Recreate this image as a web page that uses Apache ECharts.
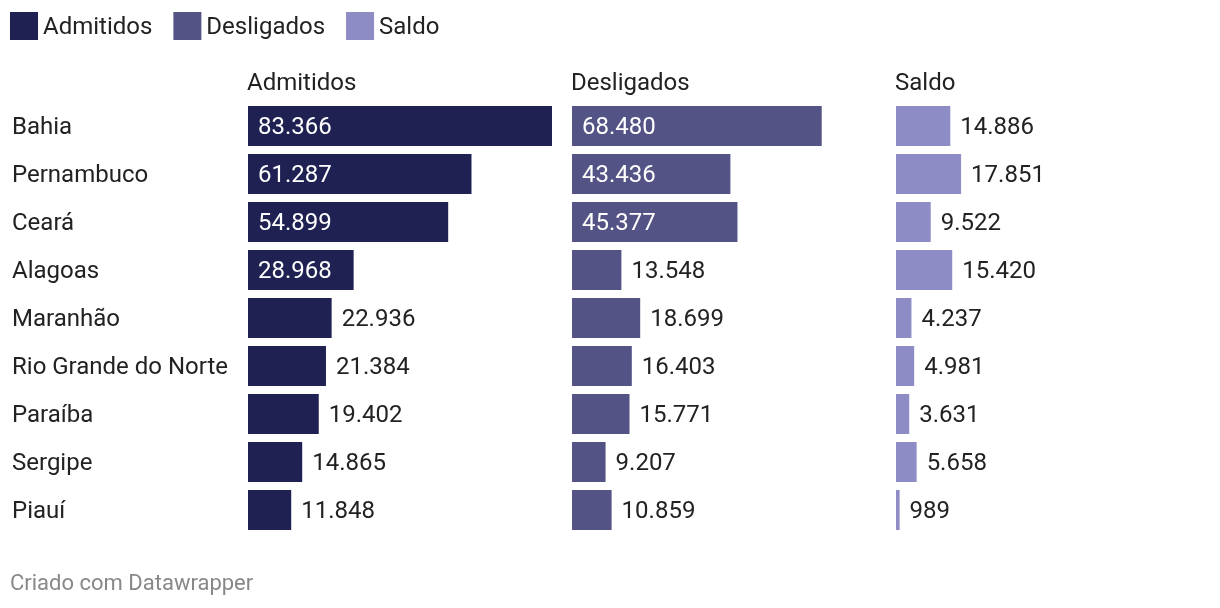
<!DOCTYPE html>
<html><head><meta charset="utf-8">
<script src="https://cdn.jsdelivr.net/npm/echarts@6/dist/echarts.min.js"></script>
<style>html,body{margin:0;padding:0;background:#fff}#c{width:1220px;height:608px}</style>
</head><body><div id="c"></div>
<script>
const categories = ["Bahia","Pernambuco","Ceará","Alagoas","Maranhão","Rio Grande do Norte","Paraíba","Sergipe","Piauí"];
const admitidos = [83366,61287,54899,28968,22936,21384,19402,14865,11848];
const desligados = [68480,43436,45377,13548,18699,16403,15771,9207,10859];
const saldo = [14886,17851,9522,15420,4237,4981,3631,5658,989];
const seriesNames = ["Admitidos","Desligados","Saldo"];
const colors = ["#1f2152","#545385","#8e8cc4"];

const maxV = Math.max(...admitidos, ...desligados, ...saldo);
const FONT = "Roboto";
const FS = 24;
const fmt = v => String(v).replace(/\B(?=(\d{3})+(?!\d))/g, ".");
const lefts = [248, 572, 896];
const W = 304;

const chart = echarts.init(document.getElementById('c'), null, {renderer:'canvas'});
const allData = [admitidos, desligados, saldo];

const richShift = {a:{fontFamily:FONT, fontSize:FS, color:'#222', padding:[4,0,0,0]}};

const grids = lefts.map(l => ({left:l, top:102, width:W, height:432}));
const xAxes = lefts.map((l,i) => ({gridIndex:i, type:'value', min:0, max:maxV, show:false}));
const yAxes = lefts.map((l,i) => ({
  gridIndex:i, type:'category', data:categories, inverse:true,
  axisLine:{show:false}, axisTick:{show:false}, splitLine:{show:false},
  axisLabel: i===0 ? {show:true, align:'left', margin:236, fontFamily:FONT, fontSize:FS, color:'#222',
    formatter: v => '{a|' + v + '}', rich: richShift} : {show:false}
}));
const series = allData.map((arr,i) => ({
  name: seriesNames[i], type:'bar', xAxisIndex:i, yAxisIndex:i, barWidth:40,
  itemStyle:{color:colors[i]},
  data: arr.map(v => {
    const inside = v/maxV*W > 100;
    return {value:v, label:{show:true, position: inside ? 'insideLeft' : 'right',
      distance: 10, offset:[0,2],
      color: inside ? '#fff' : '#222', fontFamily:FONT, fontSize:FS,
      formatter: p => fmt(p.value)}};
  })
}));

chart.setOption({
  animation:false,
  color: colors,
  legend:{left:10, top:12, padding:0, itemWidth:28, itemHeight:28, itemGap:21, icon:'rect',
    data: seriesNames,
    formatter: n => '{a|' + n + '}',
    textStyle:{fontFamily:FONT, fontSize:FS, color:'#222', rich: richShift}},
  title: [
    ...seriesNames.map((n,i) => ({text:n, left:lefts[i]-1, top:72, textStyle:{fontFamily:FONT, fontSize:FS, fontWeight:'normal', color:'#222'}, padding:0})),
    {text:'Criado com Datawrapper', left:10, top:573, padding:0, textStyle:{fontFamily:FONT, fontSize:22, fontWeight:'normal', color:'#888'}}
  ],
  grid: grids, xAxis: xAxes, yAxis: yAxes, series: series
});
</script></body></html>
